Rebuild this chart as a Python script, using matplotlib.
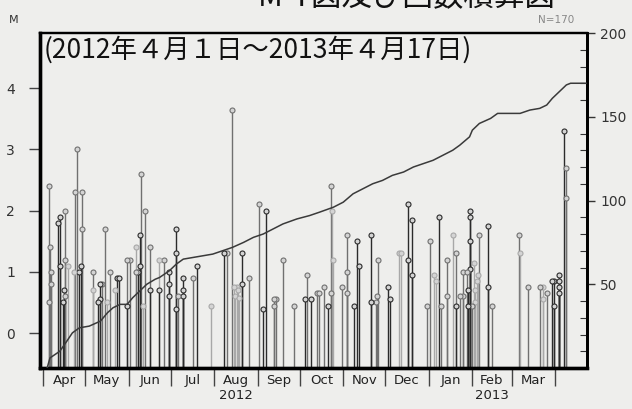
import matplotlib.pyplot as plt
import numpy as np
import pandas as pd
from matplotlib.ticker import MultipleLocator

plt.rcParams['font.family'] = ['DejaVu Sans']

start = pd.Timestamp('2012-04-01')

# events: day since 2012-04-01, magnitude, shade class (0 dark, 1 mid, 2 light)
event_day = [4, 4, 5, 6, 6, 11, 12, 12, 14, 15, 16, 16, 16, 18, 22, 23, 24, 26, 27, 28, 28,
             36, 36, 39, 41, 41, 42, 44, 46, 48, 51, 53, 54, 60, 60, 62, 66, 66, 68, 69, 69, 70, 71,
             73, 76, 76, 83, 83, 86, 90, 90, 90, 95, 95, 95, 96, 100, 100, 100, 107, 110, 120,
             129, 131, 135, 136, 138, 139, 137, 140, 142, 142, 147, 154, 157, 159, 165, 166, 165,
             171, 179, 187, 188, 191, 195, 197, 200, 203, 205, 205, 206, 207, 213, 217, 217, 217,
             222, 224, 225, 234, 234, 237, 238, 239, 246, 247, 254, 255, 260, 260, 263, 263,
             274, 276, 279, 280, 282, 284, 288, 288, 292, 294, 294, 297, 299, 299, 302, 303, 303,
             304, 304, 304, 304, 306, 307, 308, 308, 309, 310, 311, 317, 317, 320, 339, 340, 346,
             354, 356, 356, 359, 363, 364, 364, 368, 368, 368, 368, 371, 373, 373]
event_mag = [2.4, 0.5, 1.4, 1.0, 0.8, 1.8, 1.9, 1.1, 0.5, 0.7, 2.0, 1.2, 0.6, 1.1, 1.0, 2.3, 3.0, 1.0, 1.1, 2.3, 1.7,
             0.7, 1.0, 0.5, 0.8, 0.55, 0.8, 1.7, 0.5, 1.0, 0.7, 0.9, 0.9, 1.2, 0.45, 1.2, 1.0, 1.4, 1.0, 1.6, 1.1, 2.6, 0.45,
             2.0, 1.4, 0.7, 1.2, 0.7, 1.2, 1.0, 0.8, 0.6, 1.7, 1.3, 0.4, 0.6, 0.9, 0.7, 0.6, 0.9, 1.1, 0.45,
             1.3, 1.3, 3.65, 0.75, 0.75, 0.7, 0.6, 0.58, 1.3, 0.8, 0.9, 2.1, 0.4, 2.0, 0.55, 0.55, 0.45,
             1.2, 0.45, 0.55, 0.95, 0.55, 0.65, 0.65, 0.75, 0.45, 2.4, 0.65, 2.0, 1.2, 0.75, 0.65, 1.6, 1.0,
             0.45, 1.5, 1.1, 1.6, 0.5, 0.5, 0.6, 1.2, 0.75, 0.55, 1.3, 1.3, 2.1, 1.2, 1.85, 0.95,
             0.45, 1.5, 0.95, 0.85, 1.9, 0.45, 1.2, 0.6, 1.6, 1.3, 0.45, 0.6, 0.6, 1.0, 1.0, 0.45, 0.7,
             2.0, 1.9, 1.5, 1.05, 0.45, 1.15, 0.7, 0.5, 0.85, 0.95, 1.6, 1.75, 0.75, 0.45, 1.6, 1.3, 0.75,
             0.75, 0.75, 0.55, 0.65, 0.85, 0.85, 0.45, 0.75, 0.65, 0.85, 0.95, 3.3, 2.7, 2.2]
event_shade = [1, 1, 1, 1, 1, 0, 0, 0, 0, 0, 1, 1, 1, 2, 2, 1, 1, 0, 0, 1, 1,
               2, 1, 0, 0, 0, 1, 1, 2, 1, 2, 0, 0, 1, 0, 1, 1, 2, 0, 0, 0, 1, 2,
               1, 1, 0, 2, 0, 1, 0, 0, 0, 0, 0, 0, 1, 0, 0, 0, 1, 0, 2,
               0, 1, 1, 2, 2, 2, 2, 2, 0, 0, 1, 1, 0, 0, 1, 1, 1,
               1, 1, 0, 1, 0, 1, 1, 1, 0, 1, 1, 2, 2, 1, 1, 1, 1,
               0, 0, 0, 0, 0, 1, 1, 1, 0, 0, 2, 2, 0, 0, 0, 0,
               1, 1, 2, 2, 0, 1, 1, 1, 2, 1, 0, 1, 1, 1, 1, 0, 0,
               0, 0, 0, 0, 1, 2, 2, 2, 2, 2, 1, 0, 0, 1, 1, 2, 1,
               1, 2, 2, 1, 0, 0, 0, 0, 0, 0, 0, 0, 1, 1]

# cumulative number of events
cum_day = [3, 5, 12, 17, 21, 26, 33, 41, 46, 50, 55, 60, 64, 69, 74, 80, 83, 90, 95, 100,
           107, 114, 121, 128, 135, 143, 150, 157, 164, 171, 181, 190, 197, 207, 214, 221, 228, 235, 242, 249,
           257, 264, 271, 278, 285, 292, 297, 304, 306, 311, 319, 324, 340, 347, 354, 359, 363, 368, 373, 376, 387]
cum_count = [0, 6, 10, 16, 21, 24, 25, 28, 33, 36, 38, 38, 42, 46, 50, 53, 54, 58, 62, 65,
             66, 67, 68, 70, 72, 75, 78, 80, 83, 86, 89, 91, 93, 96, 99, 104, 107, 110, 112, 115,
             117, 120, 122, 124, 127, 130, 133, 138, 142, 146, 149, 152, 152, 154, 155, 157, 161, 165, 169, 170, 170]

month_names = ['Apr', 'May', 'Jun', 'Jul', 'Aug\n2012', 'Sep', 'Oct', 'Nov', 'Dec', 'Jan', 'Feb\n2013', 'Mar']

bg = '#eeeeec'
shade_colors = ['#2b2b2b', '#707070', '#a8a8a8']

fig = plt.figure(figsize=(6.32, 4.09), dpi=100, facecolor=bg)
ax = fig.add_axes([40/632, 1 - 368/409, 547/632, 335/409])
ax.set_facecolor(bg)
ymin = -0.57
ax.set_ylim(ymin, 4.9)
ax.set_xlim(-2.1, 387.7)

# stems, tallest first so small ones sit on top
order = np.argsort(event_mag)[::-1]
for i in order:
    c = shade_colors[event_shade[i]]
    ax.vlines(event_day[i], ymin, event_mag[i], color=c, lw=1.0, zorder=2)
    ax.plot(event_day[i], event_mag[i], 'o', ms=3.6, mfc='#d4d4d4', mec=c, mew=0.8, zorder=3)

ax2 = ax.twinx()
ax2.set_ylim(0, 200)
ax2.plot(cum_day, cum_count, color='#3a3a3a', lw=1.1, zorder=4)

# month ticks
months = pd.date_range('2012-04-01', '2013-04-01', freq='MS')
month_pos = [(m - start).days for m in months]
mid_pos = [(month_pos[i] + month_pos[i + 1]) / 2 for i in range(len(month_pos) - 1)]
ax.set_xticks(month_pos)
ax.set_xticklabels([])
ax.set_xticks(mid_pos, minor=True)
ax.set_xticklabels(month_names, minor=True)
ax.tick_params(axis='x', which='major', direction='out', length=13, width=1, color='#444444')
ax.tick_params(axis='x', which='minor', length=0, pad=4, labelsize=9.5, labelcolor='#222222')

ax.set_yticks([0, 1, 2, 3, 4])
ax.tick_params(axis='y', direction='out', length=8, width=1, pad=10, labelsize=10, color='#444444',
               labelcolor='#333333')

ax2.set_yticks([50, 100, 150, 200])
ax2.yaxis.set_minor_locator(MultipleLocator(10))
ax2.tick_params(axis='y', which='major', direction='out', length=6, width=1, labelsize=10,
                color='#333333', labelcolor='#333333')
ax2.tick_params(axis='y', which='minor', direction='in', length=5, width=0.8, color='#333333')

for a in (ax, ax2):
    a.spines['left'].set_linewidth(2.4)
    a.spines['bottom'].set_linewidth(2.4)
    a.spines['right'].set_linewidth(2.0)
    a.spines['top'].set_linewidth(1.6)

fig.text(14/632, 1 - 20/409, 'M', fontsize=8, color='#333333', ha='center', va='center')
fig.text(556/632, 1 - 20/409, 'N=170', fontsize=7.5, color='#888888', ha='center', va='center')
fig.text(44/632, 1 - 50/409, '(2012年４月１日～2013年４月17日)', fontsize=19,
         family=['Noto Sans CJK JP', 'DejaVu Sans'], ha='left', va='center', color='#111111')
fig.text(556/632, 1 - 5/409, 'M-T図及び回数積算図', fontsize=22,
         family=['Noto Sans CJK JP', 'DejaVu Sans'], ha='right', va='baseline', color='#111111')

fig.savefig('out.png', dpi=100, facecolor=bg)
